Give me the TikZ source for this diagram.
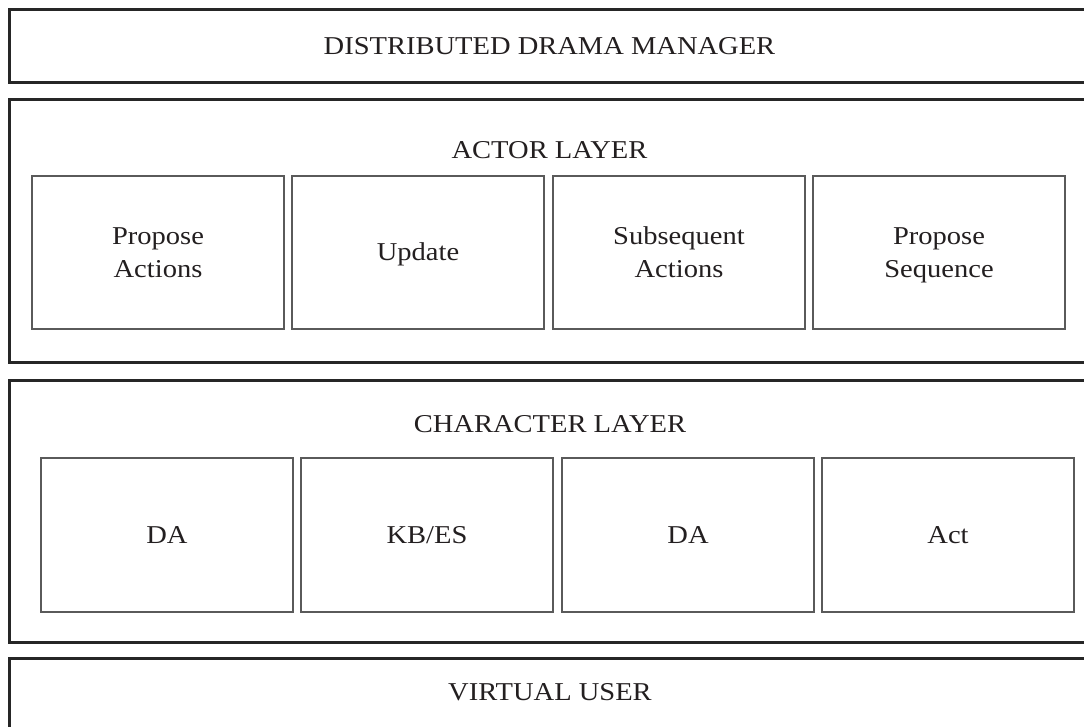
\documentclass[tikz,border=0pt]{standalone}
\usepackage{fontspec}
\setmainfont{Liberation Serif}[FakeStretch=1.11]
\definecolor{framecol}{HTML}{262626}
\definecolor{boxcol}{HTML}{5A5A5A}
\definecolor{inkcol}{HTML}{231F20}
% invisible strut (0.92em up, 0.26em down) centred on the cap height
\newcommand{\cellline}{\rule[-0.26em]{0pt}{1.18em}}
\begin{document}
\begin{tikzpicture}[x=1pt,y=-1pt,
  every node/.style={text=inkcol,font=\fontsize{25.7}{33}\selectfont},
  layer/.style={draw=framecol,line width=3pt},
  cell/.style={draw=boxcol,line width=2pt,minimum width=252pt,minimum height=153pt,
    align=center,inner sep=0pt,anchor=north west},
  title/.style={inner sep=0pt,anchor=center}]
\useasboundingbox (0,0) rectangle (1084,726);
\clip (0,0) rectangle (1084,726);
\fill[white] (0,0) rectangle (1084,726);

% layer frames
\draw[layer] (9.5,9.5) rectangle (1090,82);
\draw[layer] (9.5,99.5) rectangle (1090,362);
\draw[layer] (9.5,380) rectangle (1090,642);
\draw[layer] (9.5,658.5) rectangle (1090,760);

% layer titles
\node[title] (ddm) at (549.5,46) {\cellline DISTRIBUTED DRAMA MANAGER};
\node[title] (actor) at (549.5,150) {\cellline ACTOR LAYER};
\node[title] (character) at (550,424) {\cellline CHARACTER LAYER};
\node[title] (vuser) at (550,692) {\cellline VIRTUAL USER};

% actor layer cells
\node[cell] (propact) at (31,175) {\cellline Propose\\\cellline Actions};
\node[cell] (update) at (291,175) {\cellline Update};
\node[cell] (subseq) at (552,175) {\cellline Subsequent\\\cellline Actions};
\node[cell] (propseq) at (812,175) {\cellline Propose\\\cellline Sequence};

% character layer cells
\node[cell,minimum height=154pt] (da1) at (40,457) {\cellline DA};
\node[cell,minimum height=154pt] (kbes) at (300,457) {\cellline KB/ES};
\node[cell,minimum height=154pt] (da2) at (561,457) {\cellline DA};
\node[cell,minimum height=154pt] (act) at (821,457) {\cellline Act};
\end{tikzpicture}
\end{document}
